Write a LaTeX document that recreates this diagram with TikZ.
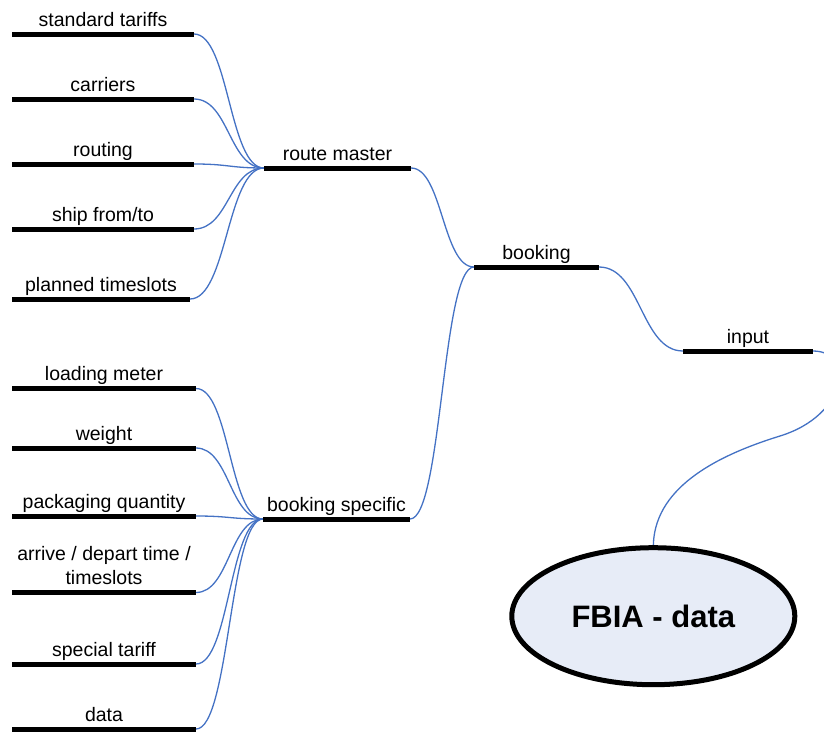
\documentclass[tikz,border=0pt]{standalone}
\usepackage{fontspec}
\setmainfont{Liberation Sans}
\usetikzlibrary{calc,shapes.geometric,backgrounds}

\definecolor{linkblue}{RGB}{68,114,196}
\definecolor{ellfill}{RGB}{231,236,247}

\tikzset{
  topic/.style={anchor=south, inner xsep=0pt, inner ysep=3.5pt, outer sep=0pt,
    text depth=4.5pt, align=center, font=\fontsize{19.5}{24}\selectfont},
  bar/.style={line width=5pt, line cap=butt, black},
  link/.style={draw=linkblue, line width=1.3pt,
    to path={let \p1=(\tikztostart), \p2=(\tikztotarget) in
      .. controls ({0.5*\x1+0.5*\x2},\y1) and ({0.5*\x1+0.5*\x2},\y2) .. (\tikztotarget)}},
  wire/.style={draw=linkblue, line width=1.3pt},
  hub/.style={ellipse, draw=black, line width=5pt, fill=ellfill, inner sep=0pt,
    outer sep=0pt, minimum width=283pt, minimum height=137pt,
    font=\bfseries\fontsize{31}{36}\selectfont}
}

\begin{document}
\begin{tikzpicture}[x=1pt,y=-1pt]
\useasboundingbox (0,0) rectangle (824,731);
\clip (0,0) rectangle (824,731);

% route master branch
\node[topic, minimum width=182pt] (st) at (103,34)  {standard tariffs};
\node[topic, minimum width=182pt] (ca) at (103,99)  {carriers};
\node[topic, minimum width=182pt] (ro) at (103,164) {routing};
\node[topic, minimum width=182pt] (sf) at (103,229) {ship from/to};
\node[topic, minimum width=178pt] (pt) at (101,299) {planned timeslots};
\node[topic, minimum width=147pt] (rm) at (337.5,168) {route master};

% booking specific branch
\node[topic, minimum width=184pt] (lm) at (104,388.5) {loading meter};
\node[topic, minimum width=184pt] (we) at (104,448)   {weight};
\node[topic, minimum width=184pt] (pq) at (104,516)   {packaging quantity};
\node[topic, minimum width=184pt] (ad) at (104,592.5) {arrive / depart time /\\timeslots};
\node[topic, minimum width=184pt] (sp) at (104,664)   {special tariff};
\node[topic, minimum width=184pt] (da) at (104,729)   {data};
\node[topic, minimum width=147pt] (bs) at (336.5,519) {booking specific};

% upper levels
\node[topic, minimum width=125pt] (bk) at (536.5,267) {booking};
\node[topic, minimum width=130pt] (in) at (748,351)   {input};

% connectors
\foreach \c in {st,ca,ro,sf,pt}
  \draw[link] (\c.south east) to (rm.south west);
\foreach \c in {lm,we,pq,ad,sp,da}
  \draw[link] (\c.south east) to (bs.south west);
\draw[link] (rm.south east) to (bk.south west);
\draw[link] (bs.south east) to (bk.south west);
\draw[link] (bk.south east) to (in.south west);

% root
\node[hub] (fbia) at (653.3,616.2) {FBIA - data};
\coordinate (bend) at (780,436);
\begin{scope}[on background layer]
  \draw[wire] (in.south east) .. controls (855,351) and (848,415) .. (bend)
    .. controls (712,457) and (653,490) .. (fbia.north);
\end{scope}

% bars under every topic
\foreach \c in {st,ca,ro,sf,pt,rm,lm,we,pq,ad,sp,da,bs,bk,in}
  \draw[bar] (\c.south west) -- (\c.south east);
\end{tikzpicture}
\end{document}
